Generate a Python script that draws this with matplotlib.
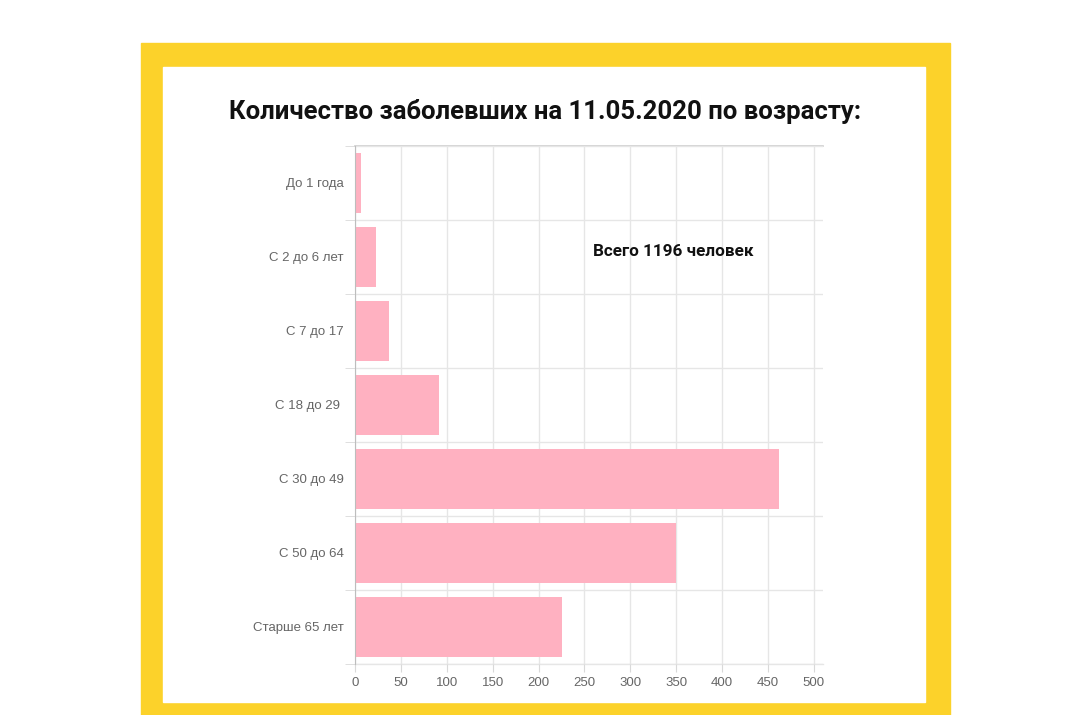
import numpy as np
import matplotlib.pyplot as plt
from matplotlib.patches import Rectangle

# age groups and number of cases on 11.05.2020
groups = ['До 1 года', 'С 2 до 6 лет', 'С 7 до 17', 'С 18 до 29 ',
          'С 30 до 49', 'С 50 до 64', 'Старше 65 лет']
cases = [7, 23, 37, 91, 462, 350, 226]
x_ticks = [0, 50, 100, 150, 200, 250, 300, 350, 400, 450, 500]
title = 'Количество заболевших на 11.05.2020 по возрасту:'
note = 'Всего 1196 человек'

bold_font = ['Roboto', 'DejaVu Sans']
plt.rcParams['font.family'] = ['Liberation Sans', 'DejaVu Sans']

fig = plt.figure(figsize=(10.8, 7.15), dpi=100)
fig.patch.set_facecolor('white')

# yellow frame with white card inside
fig.patches.append(Rectangle((141 / 1080, 0), 809 / 1080, 1 - 43 / 715,
                             transform=fig.transFigure, color='#fcd22a', zorder=-5))
fig.patches.append(Rectangle((163 / 1080, 1 - 702 / 715), 762 / 1080, 635 / 715,
                             transform=fig.transFigure, color='white', zorder=-4))

ax = fig.add_axes([355 / 1080, 1 - 664 / 715, 468 / 1080, 518 / 715])
ax.set_zorder(2)
ax.set_facecolor('none')

y = np.arange(len(groups))
ax.barh(y, cases, height=0.8, color='#ffb1c1', zorder=2)

ax.set_xlim(0, 510)
ax.set_ylim(len(groups) - 0.5, -0.5)
ax.set_xticks(x_ticks)
ax.set_yticks(y)
ax.set_yticklabels(groups)
ax.set_yticks(np.arange(len(groups) + 1) - 0.5, minor=True)

ax.tick_params(axis='y', which='major', length=0, pad=8, labelsize=9.5, labelcolor='#666666')
ax.tick_params(axis='y', which='minor', length=7, color='#d9d9d9')
ax.tick_params(axis='x', length=6, color='#d9d9d9', pad=3, labelsize=9.5, labelcolor='#666666')

ax.grid(axis='x', color='#e6e6e6', linewidth=1, zorder=1)
ax.grid(axis='y', which='minor', color='#e6e6e6', linewidth=1, zorder=1)

for side in ['top', 'right', 'bottom']:
    ax.spines[side].set_visible(False)
ax.spines['left'].set_color('#bdbdbd')
ax.axhline(-0.5, color='#cfcfcf', linewidth=1.2, zorder=1, clip_on=False)
ax.axhline(len(groups) - 0.5, color='#e6e6e6', linewidth=1, zorder=1, clip_on=False)

fig.text(545 / 1080, 1 - 111 / 715, title, ha='center', va='center',
         fontsize=18.5, fontweight='bold', family=bold_font, color='#111111', zorder=3)
ax.text(593 / 1080, 1 - 251 / 715, note, transform=fig.transFigure, ha='left',
        va='center', fontsize=12.3, fontweight='bold', family=bold_font, color='#111111')

fig.savefig('out.png', dpi=100, facecolor='white')
